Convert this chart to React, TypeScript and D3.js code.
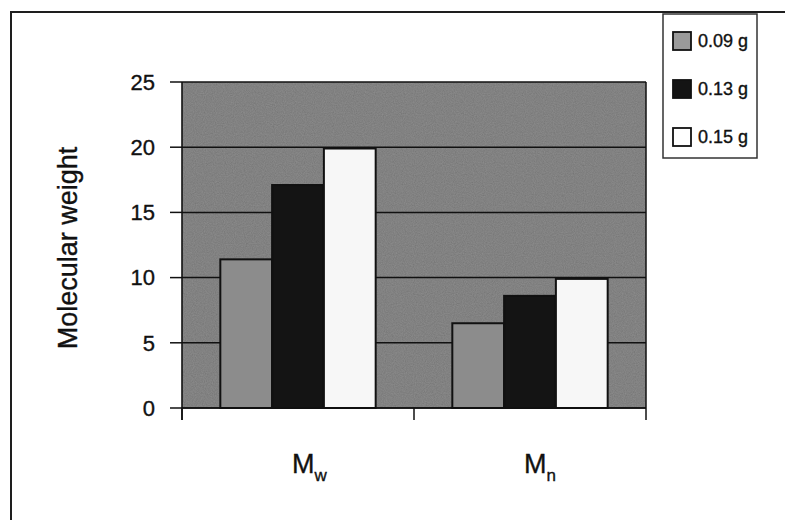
import React from "react";
import * as d3 from "d3";

const categories = ["Mw", "Mn"];
const categoryMain = ["M", "M"];
const categorySub = ["w", "n"];
const seriesNames = ["0.09 g", "0.13 g", "0.15 g"];
const valuesMw = [11.4, 17.1, 19.9];
const valuesMn = [6.5, 8.6, 9.9];
const yTicks = [0, 5, 10, 15, 20, 25];
const seriesColors = ["#8c8c8c", "#141414", "#f7f7f7"];
const legendColors = ["#9a9a9a", "#141414", "#ffffff"];

const W = 785;
const H = 520;
const plot = { left: 182, right: 646, top: 82, bottom: 408 };

export default function App() {
  const x0 = d3.scaleBand<string>().domain(categories).range([plot.left, plot.right]).padding(0);
  const x1 = d3
    .scaleBand<string>()
    .domain(seriesNames)
    .range([0, x0.bandwidth()])
    .paddingInner(0)
    .paddingOuter(0.74);
  const y = d3.scaleLinear().domain([0, 25]).range([plot.bottom, plot.top]);
  const data = [valuesMw, valuesMn];
  const font = "'Liberation Sans', Arial, sans-serif";
  const xTickPositions = [plot.left, ...categories.map((c) => (x0(c) as number) + x0.bandwidth())];
  const textStroke = { stroke: "#111", strokeWidth: 0.35 };

  return (
    <svg
      width={W}
      height={H}
      style={{ position: "absolute", left: 0, top: 0, background: "#fff" }}
      fontFamily={font}
    >
      <defs>
        <filter id="grain" x="-5%" y="-5%" width="110%" height="110%">
          <feTurbulence type="fractalNoise" baseFrequency="0.9" numOctaves="2" seed="3" result="n" />
          <feColorMatrix
            in="n"
            type="matrix"
            values="0 0 0 0 0  0 0 0 0 0  0 0 0 0 0  0 0 0 0.35 0"
            result="na"
          />
          <feComposite in="na" in2="SourceGraphic" operator="in" result="nc" />
          <feMerge>
            <feMergeNode in="SourceGraphic" />
            <feMergeNode in="nc" />
          </feMerge>
        </filter>
      </defs>
      {/* outer frame */}
      <rect x={11} y={12} width={W + 20} height={H + 20} fill="none" stroke="#1e1e1e" strokeWidth={2} />

      {/* plot background */}
      <rect
        x={plot.left}
        y={plot.top}
        width={plot.right - plot.left}
        height={plot.bottom - plot.top}
        fill="#8e8e8e"
        filter="url(#grain)"
      />

      {/* gridlines */}
      {yTicks.map((t) => (
        <line key={"g" + t} x1={plot.left} x2={plot.right} y1={y(t)} y2={y(t)} stroke="#111" strokeWidth={1.5} />
      ))}

      {/* bars */}
      {categories.map((c, ci) =>
        seriesNames.map((s, si) => {
          const bx = (x0(c) as number) + (x1(s) as number);
          const by = y(data[ci][si]);
          return (
            <rect
              key={c + s}
              x={bx}
              y={by}
              width={x1.bandwidth()}
              height={plot.bottom - by}
              fill={seriesColors[si]}
              stroke="#111"
              strokeWidth={2}
            />
          );
        })
      )}

      {/* plot border */}
      <line x1={plot.right} x2={plot.right} y1={plot.top} y2={plot.bottom} stroke="#111" strokeWidth={1.5} />
      <line x1={plot.left} x2={plot.left} y1={plot.top} y2={plot.bottom + 12} stroke="#111" strokeWidth={1.6} />
      <line x1={plot.left} x2={plot.right} y1={plot.bottom} y2={plot.bottom} stroke="#111" strokeWidth={1.6} />

      {/* y ticks */}
      {yTicks.map((t) => (
        <g key={"t" + t}>
          <line x1={plot.left - 12} x2={plot.left} y1={y(t)} y2={y(t)} stroke="#111" strokeWidth={1.5} />
          <text x={155} y={y(t)} dy="0.35em" textAnchor="end" fontSize={22} fill="#111" {...textStroke}>
            {t}
          </text>
        </g>
      ))}

      {/* x ticks */}
      {xTickPositions.map((p, i) => (
        <line key={"xt" + i} x1={p} x2={p} y1={plot.bottom} y2={plot.bottom + 12} stroke="#111" strokeWidth={1.5} />
      ))}

      {/* category labels */}
      {categories.map((c, ci) => {
        const cx = (x0(c) as number) + x0.bandwidth() / 2;
        return (
          <text key={"cl" + c} x={cx - 6} y={473} fontSize={27} fill="#111" {...textStroke}>
            {categoryMain[ci]}
            <tspan fontSize={17} dy={8}>
              {categorySub[ci]}
            </tspan>
          </text>
        );
      })}

      {/* y axis title */}
      <text
        transform={`translate(77, 248) rotate(-90)`}
        textAnchor="middle"
        fontSize={27}
        fill="#111"
        {...textStroke}
      >
        Molecular weight
      </text>

      {/* legend */}
      <rect x={663} y={14} width={94} height={144} fill="#fff" stroke="#333" strokeWidth={1.5} />
      {seriesNames.map((s, i) => {
        const cy = 41 + i * 48;
        return (
          <g key={"lg" + s}>
            <rect x={673} y={cy - 9} width={18} height={18} fill={legendColors[i]} stroke="#111" strokeWidth={1.8} />
            <text x={698} y={cy} dy="0.35em" fontSize={18} fill="#111" {...textStroke}>
              {s}
            </text>
          </g>
        );
      })}
    </svg>
  );
}
